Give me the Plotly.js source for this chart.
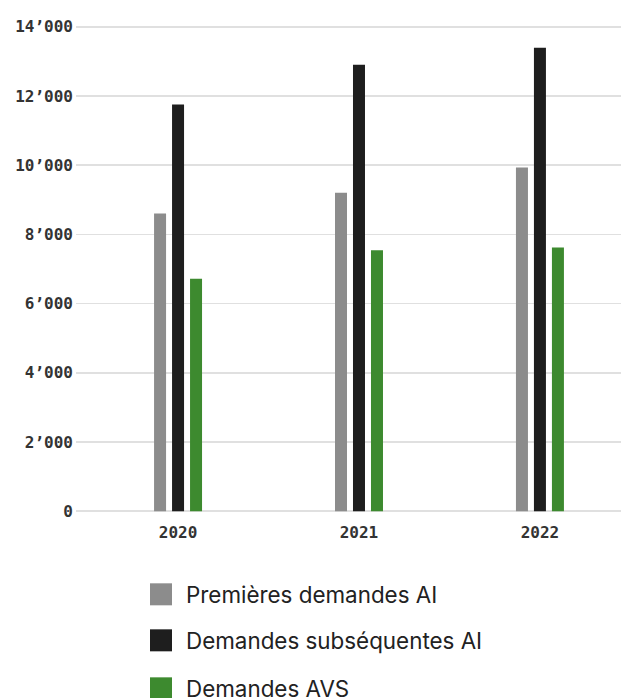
<!DOCTYPE html>
<html>
<head>
<meta charset="utf-8">
<script src="https://cdn.plot.ly/plotly-3.0.1.min.js"></script>
<style>html,body{margin:0;padding:0;background:#fff;}#chart{width:621px;height:698px;}</style>
</head>
<body>
<div id="chart"></div>
<script>
const years = ['2020', '2021', '2022'];
const seriesNames = ['Premières demandes AI', 'Demandes subséquentes AI', 'Demandes AVS'];
const premieres = [8600, 9200, 9930];
const subsequentes = [11750, 12900, 13390];
const avs = [6720, 7540, 7620];
const seriesColors = ['#8c8c8c', '#1e1e1e', '#3d8a2f'];
const yTickVals = [0, 2000, 4000, 6000, 8000, 10000, 12000, 14000];
const yTickText = ['0', '2’000', '4’000', '6’000', '8’000', '10’000', '12’000', '14’000'];

const values = [premieres, subsequentes, avs];
const traces = values.map((v, i) => ({
  type: 'bar',
  x: years,
  y: v,
  name: seriesNames[i],
  marker: {color: seriesColors[i]},
  showlegend: false,
  hoverinfo: 'x+y'
}));

// custom legend (paper coordinates)
const L = 76, W = 545, B = 512.7, H = 487.9;
const px2x = p => (p - L) / W;
const py2y = p => (B - p) / H;
const legendCenters = [594, 640, 688];
const shapes = [];
const annotations = [];
seriesNames.forEach((name, i) => {
  const c = legendCenters[i];
  shapes.push({
    type: 'rect', xref: 'paper', yref: 'paper',
    x0: px2x(150), x1: px2x(172), y0: py2y(c - 11), y1: py2y(c + 11),
    fillcolor: seriesColors[i], line: {width: 0}
  });
  annotations.push({
    xref: 'paper', yref: 'paper', x: px2x(184), y: py2y(c),
    xanchor: 'left', yanchor: 'middle', showarrow: false,
    text: name, font: {family: 'Inter, Roboto, sans-serif', size: 22.4, color: '#222222'}
  });
});

const layout = {
  width: 621, height: 698,
  margin: {l: L, r: 0, t: 25, b: 185},
  paper_bgcolor: '#ffffff', plot_bgcolor: '#ffffff',
  barmode: 'group',
  bargap: 0.7017,
  bargroupgap: 0.333,
  showlegend: false,
  xaxis: {
    type: 'category',
    range: [-0.564, 2.448],
    showgrid: false, zeroline: false, showline: false,
    ticks: '',
    tickfont: {family: 'DejaVu Sans Mono, monospace', size: 16, color: '#333333', weight: 'bold'},
    ticklabelstandoff: 8
  },
  yaxis: {
    range: [-50, 14050],
    tickvals: yTickVals, ticktext: yTickText,
    showgrid: true, gridcolor: '#e0e0e0', gridwidth: 1.6,
    zeroline: false, showline: false, ticks: '',
    tickfont: {family: 'DejaVu Sans Mono, monospace', size: 16, color: '#333333', weight: 'bold'},
    ticklabelstandoff: 2
  },
  shapes: shapes,
  annotations: annotations
};

Plotly.newPlot('chart', traces, layout, {displayModeBar: false, staticPlot: true});
</script>
</body>
</html>
